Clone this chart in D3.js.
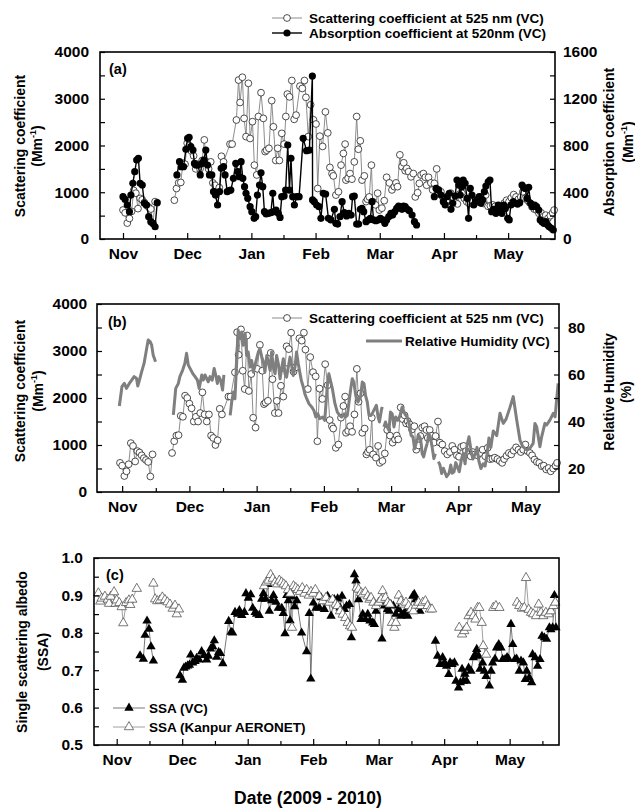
<!DOCTYPE html>
<html><head><meta charset="utf-8">
<script src="https://cdn.jsdelivr.net/npm/d3@7"></script>
<style>
body{margin:0;background:#fff}
svg text{font-family:"Liberation Sans",Arial,sans-serif;font-weight:bold;fill:#000}
</style>
</head><body>
<svg id="chart" width="635" height="808"></svg>
<script>
// ---------- DATA ----------
const months = ["Nov","Dec","Jan","Feb","Mar","Apr","May"];
const monthTicksA = [0,30,60,90,120,150,180];
const monthTicksB = [1,32,63,94,125,156,187];
const monthTicksC = [0,30,60,90,120,150,180];

// scattering coefficient at 525 nm [day, Mm-1]; null = gap
const scattering = [
[0,620],[1,560],[2,340],[3,440],[4,590],[5,1040],[6,980],[7,650],[8,870],[9,840],[10,780],[11,720],[12,680],[13,640],[14,330],[15,800],
null,
[24,830],[25,1080],[26,1200],[27,1210],[28,1620],[29,1600],[30,2050],[31,2000],[32,1880],[33,1780],[34,1500],[35,1600],[36,1500],[37,1680],[38,2120],[39,1650],[40,1500],[41,1650],[42,1200],[43,1150],[44,1000],[45,1100],[46,1770],[47,1650],
[50,2030],[51,2030],[53,2545],[54,3400],[54.7,2920],[55.8,3460],[56.6,2580],[57.5,2190],[58.6,3330],[59.4,2150],[60.5,2510],[61.4,1580],[62.5,1370],[63.3,2620],[64.5,3130],[65.6,2580],[66.4,1870],[67.1,1900],[68.2,1940],[69.5,2960],[70.3,2400],[71.4,1680],[72.3,1940],[73.1,1680],[74.2,2260],[75.3,2030],[76.1,2620],[76.8,3100],[77.8,3040],[78.9,3390],[80,2560],[80.9,2650],[82.7,3270],[83.8,3220],[84.8,3390],[85.5,3030],[86.6,2190],[87.7,2870],[89,2550],[90.2,2460],[91,1080],[92,2200],[93.3,1980],[94.6,2720],[95.7,2270],[96.7,1530],[97.7,1400],[98.3,1350],[99.5,940],[100.7,1010],[101.9,1580],[103,1830],[103.8,2030],[104.2,1260],[105.2,1300],[106.1,1400],[107,1280],[108.1,1650],[109.2,2620],[110,1920],[110.9,2100],[111.7,1260],[112.8,1350],[113.6,800],[114.3,850],[115.1,900],[116.1,1580],[116.7,800],[118,730],[119,980],[119.8,620],[121,660],[122.1,820],[123.2,1320],[124.5,1200],[125.7,1050],[126.8,1120],[127.6,1200],[128.3,1120],[129.4,1800],[130.4,1550],[131.2,1630],[131.9,1460],[132.6,1510],[133.5,1440],[134.6,1330],[135.7,1400],[136.6,900],[137.7,990],[138.5,1190],[139.3,1370],[140.4,1400],[141.3,1320],[141.9,1150],[142.8,1320],[143.9,1200],[144.7,1050],[145.5,1190],[146.6,1500],
[147.5,1050],[148.6,1010],[149.7,870],[150.9,800],[152.1,850],[153.2,980],[154.2,900],[155.3,780],[156.3,750],[157.3,960],[158.4,980],[159.5,870],[160.6,800],[161.7,760],[162.6,850],[163.7,800],[164.8,780],[166,830],[167.2,900],[168.4,760],[169.5,940],[170.6,700],[171.7,710],[172.8,730],[174,700],[175.1,660],[176.2,620],[177.1,700],[178.2,770],[179.3,830],[180.4,800],[181.5,880],[182.6,950],[183.7,900],[184.8,850],[185.9,900],[186.9,1010],[187.9,870],[189,830],[190,780],[191.1,690],[192.2,640],[193.3,620],[194.4,550],[195.4,560],[196.5,480],[197.6,510],[198.6,440],[199.7,500],[200.8,560],[201.5,620]
];

// absorption coefficient at 520 nm [day, Mm-1]
const absorption = [
[0,362],[1,339],[2,291],[3,234],[3.7,376],[4.6,476],[5.5,576],[6.4,676],[7.2,690],[8,476],[9,462],[10,305],[11,291],[12,191],[13,148],[14,134],[15,105],[16,311],
null,
[25.2,548],[26.4,662],[27.2,619],[28.3,619],[29.4,767],[30.2,861],[30.9,870],[31.7,790],[32.7,761],[33.4,647],[34.1,633],[35,633],[36.1,548],[36.9,647],[37.8,676],[38.7,761],[39.5,633],[40.4,548],[41.5,548],[42.3,405],[43.2,376],[44.2,291],[45.1,405],[45.9,605],[47,619],[47.7,548],[48.7,405],[49.6,414],[50.4,419],[51.6,519],[52.7,647],[53.7,576],[54.4,533],[55.2,662],[56,519],[56.8,448],[57.5,391],[58.3,348],[59.4,277],[60.2,234],[61.3,177],[62,191],[62.8,376],[63.8,462],[64.5,567],[65.3,448],[66.1,234],[66.9,214],[68,220],[69.1,225],[70,391],[70.6,234],[71.5,248],[72.6,220],[73.4,185],[74.2,362],[75.3,368],[76,419],[77,804],[77.8,419],[78.5,690],[79.3,362],[80.1,291],[81.2,362],[82.3,362],[84.2,861],[85.8,756],[87.1,761],[88.5,1394],[88.6,334],[89.4,319],[90.5,291],[91.6,277],[92.5,177],[93.6,391],[94.7,385],[96,177],[97.2,163],[98.8,254],[99.5,134],[100.3,128],[101.4,191],[102.4,319],[103.4,225],[104.5,197],[105.5,220],[106.6,205],[107.3,362],[108.1,368],[109.2,128],[110.1,128],[110.9,254],[111.7,262],[112.5,234],[113.6,148],[114.7,163],[115.6,177],[116.4,319],[117.1,163],[118.2,157],[119.3,163],[120.3,177],[121.4,163],[122.4,134],[123.2,163],[124.2,191],[125.2,220],[126,205],[127,234],[127.9,262],[128.8,282],[129.6,277],[130.4,254],[131.2,282],[131.9,277],[133,254],[133.8,242],[135.1,205],[136.2,148],[137.2,120],
null,
[145.5,362],[146.3,433],[147.5,419],[148.6,376],[149.7,319],[150.6,291],[151.4,362],[152.5,391],[153.3,254],[154.1,305],[155.2,368],[156.1,505],[156.9,462],[157.6,376],[158.4,448],[159,505],[159.9,476],[160.8,348],[161.5,177],[162.3,433],[163.1,376],[163.9,291],[164.7,319],[165.7,339],[166.5,362],[167.3,305],[168.1,334],[168.9,405],[169.6,453],[170.7,490],[171.5,505],[172.3,234],[173.2,254],[174.3,220],[175.4,291],[176.3,248],[177.1,220],[177.9,291],[178.7,262],[179.8,177],[180.5,163],[181.3,291],[182.4,319],[183.3,305],[184.4,299],[185.4,311],[186.5,462],[187.2,442],[188,433],[188.8,348],[189.6,442],[190.5,305],[191.4,277],[192.4,291],[193.3,277],[194.3,248],[195,163],[195.8,148],[196.7,134],[197.7,148],[198.5,120],[199.2,105],[200.2,91],[201.1,77]
];

// relative humidity (%) [day, %]
const humidity = [
[-0.3,46.6],[0.9,54.8],[2.0,56.2],[3.0,54.1],[4.3,56.2],[5.4,57.6],[6.5,59.1],[7.6,58.4],[8.2,55.1],[9.2,58.4],[10.0,61.2],[11.1,64.7],[12.3,71.1],[13.0,74.7],[13.9,74.0],[14.6,72.5],[15.3,68.3],[16.4,65.4],
null,
[24.6,42.8],[25.7,54.1],[26.9,56.2],[27.6,59.1],[28.9,61.9],[29.9,64.7],[30.7,69.0],[31.5,64.0],[32.3,62.6],[33.5,60.5],[34.6,59.1],[35.7,57.6],[36.5,54.1],[37.7,59.8],[38.4,57.6],[39.2,59.8],[39.9,58.4],[40.7,56.9],[41.5,59.1],[42.5,57.6],[43.4,62.6],[44.3,59.1],[44.9,56.2],[45.6,59.1],[46.4,57.6],[47.3,53.4],[47.9,59.8],
null,
[50.8,42.6],[51.5,48.3],[52.3,52.5],[53.0,49.7],[53.8,65.3],[54.5,78.8],[55.3,75.2],[56.1,78.1],[56.8,72.4],[57.7,77.4],[58.4,68.1],[59.1,69.6],[60.0,63.2],[60.7,66.0],[61.5,61.0],[62.6,65.3],[63.8,69.6],[64.5,71.0],[65.4,67.4],[66.1,65.3],[66.8,61.0],[67.7,68.1],[68.4,65.3],[69.2,61.8],[69.9,69.6],[70.8,62.5],[71.5,60.3],[72.2,68.1],[73.0,64.6],[73.8,58.2],[74.5,62.5],[75.3,66.7],[76.1,60.3],[76.8,58.9],[77.6,63.2],[78.4,67.4],[79.1,63.9],[79.9,59.6],[80.7,63.2],[81.4,69.6],[82.2,64.6],[82.9,61.0],[83.6,57.5],[84.5,54.7],[85.2,51.8],[86.1,49.7],[87.1,47.6],[88.4,46.2],[89.4,44.7],[90.3,41.9],[91.2,43.3],[92.1,41.2],[93.4,41.9],[94.4,40.5],[94.8,45.5],[95.6,55.4],[96.3,60.3],[97.2,56.8],[97.9,54.0],[99.1,47.6],[100.2,44.0],[101.3,42.6],[102.2,41.9],[103.3,43.3],[104.0,41.9],[104.8,42.6],[105.6,48.3],[106.4,54.0],[107.1,58.2],[107.8,56.8],[108.7,51.1],[109.7,48.3],[110.9,50.4],[111.7,56.8],[112.5,56.1],[113.2,51.1],[114.0,48.3],[114.8,42.6],[115.8,42.6],[116.6,44.0],[117.4,45.5],[118.2,46.9],[119.0,41.9],[119.6,39.8],[120.5,44.7],[120.9,46.2],
null,
[121.7,37.7],[122.4,39.8],[123.2,37.7],[124.0,36.2],[124.7,44.0],[125.5,43.3],[126.3,37.7],[127.1,41.9],[128.1,40.5],[129.1,42.6],[130.1,46.2],[131.3,43.3],[132.4,41.9],[133.5,38.4],[134.2,34.1],[135.1,33.4],[135.8,28.4],[136.7,31.3],[137.7,34.1],[138.6,32.7],[139.3,26.3],[140.0,24.9],[140.9,28.4],[141.6,30.6],[142.4,34.8],[143.1,33.4],[143.9,29.1],[144.7,24.2],[145.4,26.3],
null,
[146.8,22.9],[147.5,21.5],[148.3,17.9],[149.1,20.1],[150.6,16.5],[151.7,17.9],[152.5,21.5],[153.2,18.0],[154.0,18.6],[154.8,22.5],[155.5,20.8],[156.4,18.6],[157.5,24.3],[158.3,26.5],[159.1,22.0],[160.0,30.0],[160.9,33.5],[161.8,28.0],[162.7,24.0],[163.7,26.0],[164.6,29.0],[165.5,23.0],[166.4,20.0],[167.4,22.0],[168.3,21.0],[169.2,26.0],[170.1,33.0],[171.0,29.0],[172.1,36.0],[173.7,34.0],[175.2,43.5],[176.7,39.2],[178.0,41.0],[179.8,46.0],[181.3,50.6],[182.9,40.6],[184.4,32.1],[185.7,29.3],[187.5,27.9],[189.0,28.6],[190.5,30.7],[191.3,39.2],[192.1,37.8],[193.6,29.3],[194.4,33.5],[195.9,39.2],[196.7,38.5],[198.2,40.6],[199.8,43.5],[200.6,42.0],[201.3,49.1],[202.0,56.2]
];

// single scattering albedo, VC [day, SSA]
const ssaVC = [
[10.7,.739],[12.2,.730],[13,.794],[13.9,.832],[14.8,.810],[15.7,.763],[16.8,.725],
null,
[29,.686],[30.1,.674],[30.8,.706],[31.6,.709],[32.5,.712],[33.3,.714],[33.9,.741],[34.8,.72],[35.9,.724],[36.6,.732],[37.7,.728],[38.9,.75],[40,.74],[41.2,.728],[42,.738],[43,.757],[44,.763],[44.7,.779],[45.8,.735],[46.7,.748],[47.5,.745],[48.6,.718],
[51.3,.831],[52.4,.802],[53.1,.80],[54.2,.855],[55.3,.85],[56.2,.86],[57.3,.847],[58.5,.855],[59.2,.905],[60.3,.893],[61.4,.902],[62.3,.866],[63.4,.855],[64.1,.85],[65.3,.847],[66.4,.89],[67.2,.905],[68.2,.89],[69.2,.93],[69.9,.858],[71,.886],[71.8,.9],[73,.882],[74,.866],[75.6,.866],[76.3,.852],[77.1,.798],[77.9,.9],[78.6,.886],[79.4,.833],[80.4,.897],[81.5,.87],[82.5,.886],[84.7,.8],[87,.75],[88.2,.852],[88.9,.677],[90.1,.88],[91.3,.866],
[92.8,.867],[93.6,.894],[95.1,.863],[96.6,.898],[98.2,.845],[99.7,.889],[101.2,.891],[102.3,.867],[103.2,.898],[104.3,.863],[105.3,.872],[106.6,.876],[107.5,.787],[108.9,.956],[109.6,.939],[110.8,.889],[111.9,.836],[112.7,.85],[113.9,.836],[115,.85],[116,.832],[117.3,.827],[118,.823],[118.8,.858],[120.3,.881],[121.5,.784],[122.6,.872],[124.1,.863],[124.9,.858],[125.6,.876],[126.7,.872],[127.9,.85],[129.2,.863],[130.2,.845],[131.3,.85],[132.2,.854],[133.3,.845],[134.4,.863],[135.6,.898],[136.3,.903],[137.1,.889],[137.9,.872],[138.9,.858],
null,
[146,.778],[147,.738],[148.1,.716],[149.3,.734],[150.1,.72],[151.1,.711],[152.1,.689],[152.7,.72],[153.6,.716],[154.7,.72],[155.4,.671],[156.6,.653],[157.4,.667],[158.2,.703],[158.8,.671],[159.5,.69],[160.3,.671],[161.2,.706],[162.3,.698],[163.4,.734],[164.3,.742],[164.9,.756],[165.8,.738],[166.4,.703],[167.6,.72],[168.4,.698],[169.2,.684],[170.7,.658],[171.5,.698],[172.2,.72],[173.3,.73],[174,.76],[175,.769],[176,.76],[176.8,.729],[177.9,.729],[178.8,.734],[179.5,.73],[180.6,.823],[181.4,.769],[182.4,.729],[183.2,.73],[184.4,.698],[185.2,.725],[186.3,.72],[187.2,.676],[187.8,.698],[189,.68],[190.1,.667],[190.5,.742],[191.7,.734],[192.8,.711],[193.9,.729],[194.8,.791],[195.9,.787],[196.9,.783],[198.2,.814],[198.9,.809],[199.7,.814],[200.5,.9],[201.2,.814]
];

// single scattering albedo, Kanpur AERONET [day, SSA]
const ssaAeronet = [
[-8.4,.906],[-7.5,.884],[-6.9,.892],[-5.4,.897],[-4.1,.889],[-3.5,.878],[-2.7,.897],[-1.2,.909],[-0.5,.878],[0,.887],[1.2,.880],[2.3,.869],[3.0,.826],[4.3,.880],[5.6,.887],[6.2,.875],[7.1,.889],[9.2,.918],
null,
[16.8,.932],[17.6,.890],[18.6,.885],[19.8,.887],[20.9,.895],[22.1,.888],[23.2,.882],[24.4,.876],[25.6,.865],[26.7,.873],[27.5,.850],[28.5,.863],
null,
[67.5,.925],[68.5,.935],[69.5,.94],[70.5,.955],[71.5,.945],[72.5,.935],[73.5,.93],[74.5,.94],[75.5,.935],[76.5,.93],[77.5,.925],[78.5,.915],[79.5,.905],[80.3,.814],[81,.925],[82,.92],[83,.915],[84,.91],[85,.92],[86,.905],[87,.915],[88,.9],[89,.91],[90,.905],[91,.915],[92.8,.898],[94.4,.885],[95.9,.894],[97.4,.881],[98.9,.889],[100.2,.876],[101.2,.872],[102.3,.858],[103.5,.849],[104.7,.840],[105.8,.827],[106.9,.818],[107.8,.814],[109.9,.921],[110.8,.916],[111.9,.907],[112.7,.903],[113.9,.909],[115,.898],[115.8,.889],[116.5,.894],[117.6,.881],[118.8,.872],[120,.881],[121.1,.889],[121.8,.912],[123.1,.894],[124.1,.881],[125.2,.876],[126.1,.827],[127.2,.814],[127.9,.827],[129.2,.9],[130.2,.885],[131.3,.876],[132.5,.881],[133.7,.872],[134.8,.863],[135.9,.858],[137.1,.873],[138.3,.881],[139.4,.872],[140.2,.881],[141.4,.885],[142.4,.872],[143.5,.863],[144.4,.863],
null,
[156.9,.814],[158.2,.796],[159.2,.805],[160.3,.814],[161.2,.845],[162.3,.854],[163.4,.845],[164.3,.836],[165.3,.867],[166.1,.867],[167.2,.827],[167.9,.765],[169.2,.742],
null,
[172.5,.867],[173.7,.872],[175.3,.867],
null,
[183.4,.881],[184.4,.872],[185.6,.865],[186.7,.867],[187.5,.947],[188.7,.862],[189.8,.854],[190.8,.85],[192.1,.845],[193.3,.876],[194.4,.854],[195.4,.845],[196.6,.854],[197.9,.85],[198.9,.858],[200,.872],[200.9,.881]
];

// ---------- DRAWING ----------
const svg = d3.select("#chart");
const FS_TICK = 15.5, FS_LEG = 13.5, FS_TITLE = 14;

function frame(b){
  svg.append("rect").attr("x",b.l).attr("y",b.t).attr("width",b.r-b.l).attr("height",b.b-b.t)
    .attr("fill","none").attr("stroke","#000").attr("stroke-width",1.6);
}
function styleAxis(g){
  g.select(".domain").remove();
  g.attr("font-family",null).attr("font-size",FS_TICK);
  g.selectAll("line").attr("stroke","#000").attr("stroke-width",1.2);
  g.selectAll("text").attr("fill","#000");
}
function xAxes(x, b, majors){
  const minors = majors.map((d,i)=> i<majors.length-1 ? (d+majors[i+1])/2 : d+(majors[1]-majors[0])/2)
    .filter(d=> x(d) < b.r-2);
  svg.append("g").attr("transform",`translate(0,${b.b})`)
    .call(d3.axisBottom(x).tickValues(majors).tickFormat((d,i)=>months[i]).tickSize(-6).tickPadding(9))
    .call(styleAxis);
  svg.append("g").attr("transform",`translate(0,${b.b})`)
    .call(d3.axisBottom(x).tickValues(minors).tickFormat("").tickSize(-4))
    .call(styleAxis);
}
function yAxis(y, b, side, labelVals, allVals, fmt, pad){
  const ax = side==="left" ? d3.axisLeft(y) : d3.axisRight(y);
  svg.append("g").attr("transform",`translate(${side==="left"?b.l:b.r},0)`)
    .call(ax.tickValues(allVals).tickFormat(d=> labelVals.some(v=>Math.abs(v-d)<1e-9) ? fmt(d) : "").tickSize(-5).tickPadding(pad))
    .call(styleAxis);
}
function vTitle(x, y, text, sup){
  const t = svg.append("text").attr("transform",`translate(${x},${y}) rotate(-90)`)
    .attr("text-anchor","middle").attr("font-size",FS_TITLE);
  if(sup){
    t.append("tspan").text(text);
    t.append("tspan").attr("font-size",9).attr("dy",-6).text(sup);
    t.append("tspan").attr("dy",6).text(")");
  } else t.text(text);
}
function lineGen(x,y){ return d3.line().defined(d=>d!==null).x(d=>x(d[0])).y(d=>y(d[1])); }

// ===== Panel (a) =====
const bA = {l:100, r:555, t:52, b:239};
const xA = d3.scaleLinear().domain([-10.75, 201.9]).range([bA.l, bA.r]);
const yA = d3.scaleLinear().domain([0,4000]).range([bA.b, bA.t]);
const yA2 = d3.scaleLinear().domain([0,1600]).range([bA.b, bA.t]);

svg.append("path").datum(scattering).attr("d", lineGen(xA,yA)).attr("fill","none").attr("stroke","#808080").attr("stroke-width",0.9);
svg.append("g").selectAll("circle").data(scattering.filter(d=>d)).join("circle")
  .attr("cx",d=>xA(d[0])).attr("cy",d=>yA(d[1])).attr("r",3.4).attr("fill","#fff").attr("stroke","#222").attr("stroke-width",0.8);
svg.append("path").datum(absorption).attr("d", lineGen(xA,yA2)).attr("fill","none").attr("stroke","#000").attr("stroke-width",1.4);
svg.append("g").selectAll("circle").data(absorption.filter(d=>d)).join("circle")
  .attr("cx",d=>xA(d[0])).attr("cy",d=>yA2(d[1])).attr("r",3.6).attr("fill","#000");

frame(bA);
xAxes(xA, bA, monthTicksA);
yAxis(yA, bA, "left", d3.range(0,4001,1000), d3.range(0,4001,500), d3.format("d"), 11);
yAxis(yA2, bA, "right", d3.range(0,1601,400), d3.range(0,1601,200), d3.format("d"), 8);
svg.append("text").attr("x",109).attr("y",74).attr("font-size",14.5).text("(a)");
vTitle(25,146,"Scattering coefficient");
vTitle(42,146,"(Mm","-1");
vTitle(614,142,"Absorption coefficient");
vTitle(633,142,"(Mm","-1");
// legend a
svg.append("line").attr("x1",272).attr("x2",302).attr("y1",18).attr("y2",18).attr("stroke","#808080").attr("stroke-width",0.9);
svg.append("circle").attr("cx",287).attr("cy",18).attr("r",3.4).attr("fill","#fff").attr("stroke","#222").attr("stroke-width",0.8);
svg.append("text").attr("x",309).attr("y",23).attr("font-size",FS_LEG).text("Scattering coefficient at 525 nm (VC)");
svg.append("line").attr("x1",272).attr("x2",302).attr("y1",33).attr("y2",33).attr("stroke","#000").attr("stroke-width",1.4);
svg.append("circle").attr("cx",287).attr("cy",33).attr("r",3.6).attr("fill","#000");
svg.append("text").attr("x",309).attr("y",38).attr("font-size",FS_LEG).text("Absorption coefficient at 520nm (VC)");

// ===== Panel (b) =====
const bB = {l:97, r:559, t:304, b:492};
const xB = d3.scaleLinear().domain([-10.6, 202.4]).range([bB.l, bB.r]);
const yB = d3.scaleLinear().domain([0,4000]).range([bB.b, bB.t]);
const yB2 = d3.scaleLinear().domain([10,90]).range([bB.b, bB.t]);

svg.append("path").datum(scattering).attr("d", lineGen(xB,yB)).attr("fill","none").attr("stroke","#808080").attr("stroke-width",0.9);
svg.append("g").selectAll("circle").data(scattering.filter(d=>d)).join("circle")
  .attr("cx",d=>xB(d[0])).attr("cy",d=>yB(d[1])).attr("r",3.4).attr("fill","#fff").attr("stroke","#222").attr("stroke-width",0.8);
svg.append("path").datum(humidity).attr("d", lineGen(xB,yB2)).attr("fill","none").attr("stroke","#7f7f7f").attr("stroke-width",3).attr("stroke-linejoin","round");

frame(bB);
xAxes(xB, bB, monthTicksB);
yAxis(yB, bB, "left", d3.range(0,4001,1000), d3.range(0,4001,500), d3.format("d"), 10);
yAxis(yB2, bB, "right", [20,40,60,80], d3.range(20,81,10), d3.format("d"), 9);
svg.append("text").attr("x",108).attr("y",327).attr("font-size",14.5).text("(b)");
vTitle(25,391,"Scattering coefficient");
vTitle(43,391,"(Mm","-1");
vTitle(614,392,"Relative Humidity");
vTitle(631,392,"(%)");
// legend b
svg.append("line").attr("x1",272).attr("x2",302).attr("y1",318).attr("y2",318).attr("stroke","#808080").attr("stroke-width",0.9);
svg.append("circle").attr("cx",287).attr("cy",318).attr("r",3.4).attr("fill","#fff").attr("stroke","#222").attr("stroke-width",0.8);
svg.append("text").attr("x",309).attr("y",323).attr("font-size",FS_LEG).text("Scattering coefficient at 525 nm (VC)");
svg.append("line").attr("x1",366).attr("x2",402).attr("y1",341).attr("y2",341).attr("stroke","#7f7f7f").attr("stroke-width",3);
svg.append("text").attr("x",405).attr("y",346).attr("font-size",FS_LEG).text("Relative Humidity (VC)");

// ===== Panel (c) =====
const bC = {l:94, r:559, t:558, b:745};
const xC = d3.scaleLinear().domain([-10.4, 202.6]).range([bC.l, bC.r]);
const yC = d3.scaleLinear().domain([0.5,1.0]).range([bC.b, bC.t]);
const tri = d3.symbol().type(d3.symbolTriangle).size(38);

svg.append("path").datum(ssaAeronet).attr("d", lineGen(xC,yC)).attr("fill","none").attr("stroke","#888").attr("stroke-width",0.8);
svg.append("path").datum(ssaVC).attr("d", lineGen(xC,yC)).attr("fill","none").attr("stroke","#555").attr("stroke-width",0.8);
svg.append("g").selectAll("path").data(ssaVC.filter(d=>d)).join("path")
  .attr("d",tri).attr("transform",d=>`translate(${xC(d[0])},${yC(d[1])})`).attr("fill","#000");
svg.append("g").selectAll("path").data(ssaAeronet.filter(d=>d)).join("path")
  .attr("d",tri).attr("transform",d=>`translate(${xC(d[0])},${yC(d[1])})`).attr("fill","#fff").attr("stroke","#555").attr("stroke-width",0.8);

frame(bC);
xAxes(xC, bC, monthTicksC);
yAxis(yC, bC, "left", [0.5,0.6,0.7,0.8,0.9,1.0], d3.range(0,11).map(i=>0.5+i*0.05), d3.format(".1f"), 11);
svg.append("text").attr("x",106).attr("y",580).attr("font-size",14.5).text("(c)");
vTitle(27,652,"Single scattering albedo");
vTitle(48,652,"(SSA)");
// legend c
svg.append("line").attr("x1",113).attr("x2",145).attr("y1",708).attr("y2",708).attr("stroke","#555").attr("stroke-width",0.8);
svg.append("path").attr("d",tri).attr("transform","translate(129,708)").attr("fill","#000");
svg.append("text").attr("x",149).attr("y",713).attr("font-size",FS_LEG).text("SSA (VC)");
svg.append("line").attr("x1",113).attr("x2",145).attr("y1",727).attr("y2",727).attr("stroke","#888").attr("stroke-width",0.8);
svg.append("path").attr("d",tri).attr("transform","translate(129,727)").attr("fill","#fff").attr("stroke","#555").attr("stroke-width",0.8);
svg.append("text").attr("x",149).attr("y",732).attr("font-size",FS_LEG).text("SSA (Kanpur AERONET)");

svg.append("text").attr("x",308).attr("y",804).attr("text-anchor","middle").attr("font-size",17.5).text("Date (2009 - 2010)");
</script>
</body></html>
